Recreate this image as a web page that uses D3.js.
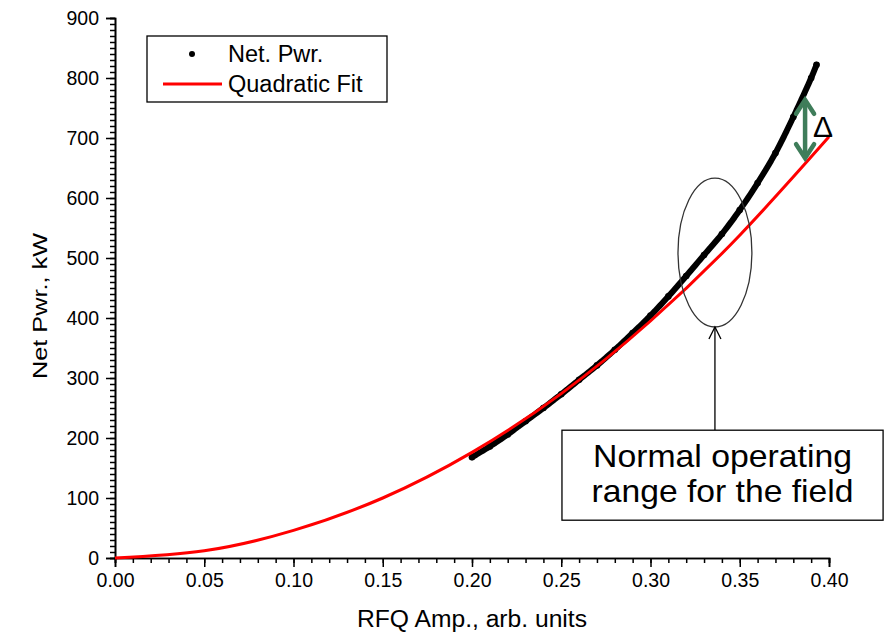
<!DOCTYPE html>
<html>
<head>
<meta charset="utf-8">
<script src="https://cdn.jsdelivr.net/npm/d3@7"></script>
<style>
  body { margin: 0; background: #fff; }
  svg text { font-family: "Liberation Sans", Arial, sans-serif; fill: #000; }
</style>
</head>
<body>
<div class="container"></div>
<script>
const ampPts = [0.200, 0.210, 0.220, 0.230, 0.240, 0.250, 0.260, 0.270, 0.280, 0.290,
  0.300, 0.310, 0.320, 0.330, 0.340, 0.350, 0.360, 0.370, 0.380, 0.390, 0.393];
const pwrPts = [168, 186, 206, 228, 250, 273, 297, 321, 347, 375,
  404, 436, 470, 505, 540, 580, 625, 675, 735, 800, 822];

// quadratic fit curve
const ampFit = [0, 0.05, 0.10, 0.15, 0.20, 0.25, 0.30, 0.35, 0.40];
const pwrFit = [0, 12, 46, 100, 176, 274, 395, 538, 702];

const xTicks = [0, 0.05, 0.10, 0.15, 0.20, 0.25, 0.30, 0.35, 0.40];
const yTicks = [0, 100, 200, 300, 400, 500, 600, 700, 800, 900];

const width = 895, height = 632;
const x = d3.scaleLinear().domain([0, 0.40]).range([115, 829]);
const y = d3.scaleLinear().domain([0, 900]).range([558, 18]);

const svg = d3.select(".container").append("svg")
  .attr("width", width).attr("height", height);

// axes
const xAxis = d3.axisBottom(x).tickValues(xTicks).tickFormat(d3.format(".2f"))
  .tickSize(9).tickPadding(6);
const xMinor = d3.axisBottom(x).tickValues(d3.range(0, 41).map(i => i / 100))
  .tickSize(5).tickFormat("");
const yAxis = d3.axisLeft(y).tickValues(yTicks).tickSize(9).tickPadding(7);
const yMinor = d3.axisLeft(y).tickValues(d3.range(0, 91).map(i => i * 10))
  .tickSize(5).tickFormat("");

function styleAxis(g) {
  g.select(".domain").attr("stroke", "#000").attr("stroke-width", 1.6);
  g.selectAll(".tick line").attr("stroke", "#000").attr("stroke-width", 1.5);
  g.selectAll("text").attr("font-size", 19.5).attr("font-family", "Liberation Sans, Arial, sans-serif");
}
svg.append("g").attr("transform", "translate(0,558)").call(xMinor).call(styleAxis);
svg.append("g").attr("transform", "translate(0,558)").call(xAxis).call(styleAxis);
svg.append("g").attr("transform", "translate(115,0)").call(yMinor).call(styleAxis);
svg.append("g").attr("transform", "translate(115,0)").call(yAxis).call(styleAxis);

// axis titles
svg.append("text").attr("x", 472).attr("y", 627).attr("text-anchor", "middle")
  .attr("font-size", 23).attr("textLength", 230).attr("lengthAdjust", "spacingAndGlyphs")
  .text("RFQ Amp., arb. units");
svg.append("text").attr("transform", "translate(47,306) rotate(-90)")
  .attr("text-anchor", "middle").attr("font-size", 21)
  .attr("textLength", 146).attr("lengthAdjust", "spacingAndGlyphs").text("Net Pwr., kW");

const ptData = ampPts.map((a, i) => [a, pwrPts[i]]);
const fitData = ampFit.map((a, i) => [a, pwrFit[i]]);

// measured points: dense scatter drawn as a thick dotted band
svg.append("path").datum(ptData)
  .attr("d", d3.line().x(d => x(d[0])).y(d => y(d[1])).curve(d3.curveCatmullRom))
  .attr("fill", "none").attr("stroke", "#000").attr("stroke-width", 6)
  .attr("stroke-linecap", "round").attr("stroke-dasharray", "5,0.6");
svg.selectAll("circle.pt").data(ptData).join("circle").attr("class", "pt")
  .attr("cx", d => x(d[0])).attr("cy", d => y(d[1])).attr("r", 3.3).attr("fill", "#000");

// quadratic fit
svg.append("path").datum(fitData)
  .attr("d", d3.line().x(d => x(d[0])).y(d => y(d[1])).curve(d3.curveNatural))
  .attr("fill", "none").attr("stroke", "#ff0000").attr("stroke-width", 3);

// legend
const lg = svg.append("g");
lg.append("rect").attr("x", 147).attr("y", 36).attr("width", 240).attr("height", 66)
  .attr("fill", "#fff").attr("stroke", "#000").attr("stroke-width", 1.3);
lg.append("circle").attr("cx", 192).attr("cy", 54).attr("r", 3).attr("fill", "#000");
lg.append("line").attr("x1", 163).attr("x2", 222).attr("y1", 84).attr("y2", 84)
  .attr("stroke", "#ff0000").attr("stroke-width", 3);
lg.append("text").attr("x", 228).attr("y", 62).attr("font-size", 23.5).text("Net. Pwr.");
lg.append("text").attr("x", 228).attr("y", 92).attr("font-size", 23.5).text("Quadratic Fit");

// annotation: operating range ellipse, arrow and box
const ellX = 0.3361, ellY = 509, ellRx = 0.0207, ellRy = 124;
svg.append("ellipse").attr("cx", x(ellX)).attr("cy", y(ellY))
  .attr("rx", x(ellRx) - x(0)).attr("ry", y(0) - y(ellRy))
  .attr("fill", "none").attr("stroke", "#333").attr("stroke-width", 1.3);

svg.append("line").attr("x1", x(ellX)).attr("x2", x(ellX))
  .attr("y1", y(213)).attr("y2", y(ellY - ellRy))
  .attr("stroke", "#000").attr("stroke-width", 1.3);
svg.append("path")
  .attr("d", `M${x(ellX) - 6},${y(ellY - ellRy) + 12}L${x(ellX)},${y(ellY - ellRy)}L${x(ellX) + 6},${y(ellY - ellRy) + 12}`)
  .attr("fill", "none").attr("stroke", "#000").attr("stroke-width", 1.3);

const boxMid = (x(0.2504) + x(0.4303)) / 2;
svg.append("rect").attr("x", x(0.2504)).attr("y", y(213))
  .attr("width", x(0.4303) - x(0.2504)).attr("height", y(63) - y(213))
  .attr("fill", "#fff").attr("stroke", "#000").attr("stroke-width", 1.3);
svg.append("text").attr("x", boxMid).attr("y", 467)
  .attr("text-anchor", "middle").attr("font-size", 30.5)
  .attr("textLength", 259).attr("lengthAdjust", "spacingAndGlyphs").text("Normal operating");
svg.append("text").attr("x", boxMid).attr("y", 502)
  .attr("text-anchor", "middle").attr("font-size", 30.5)
  .attr("textLength", 262).attr("lengthAdjust", "spacingAndGlyphs").text("range for the field");

// delta arrow between data and fit
const dX = 0.3866, dTop = 767, dBot = 663;
const green = "#3f7d5a";
svg.append("line").attr("x1", x(dX)).attr("x2", x(dX))
  .attr("y1", y(dTop) + 2).attr("y2", y(dBot) - 2)
  .attr("stroke", green).attr("stroke-width", 4.5);
svg.append("path")
  .attr("d", `M${x(dX) - 9},${y(dTop) + 16}L${x(dX)},${y(dTop) + 2}L${x(dX) + 9},${y(dTop) + 16}`)
  .attr("fill", "none").attr("stroke", green).attr("stroke-width", 4.5).attr("stroke-linecap", "round");
svg.append("path")
  .attr("d", `M${x(dX) - 9},${y(dBot) - 16}L${x(dX)},${y(dBot) - 2}L${x(dX) + 9},${y(dBot) - 16}`)
  .attr("fill", "none").attr("stroke", green).attr("stroke-width", 4.5).attr("stroke-linecap", "round");
svg.append("text").attr("x", x(0.391)).attr("y", y(702)).attr("font-size", 30).text("Δ");
</script>
</body>
</html>
